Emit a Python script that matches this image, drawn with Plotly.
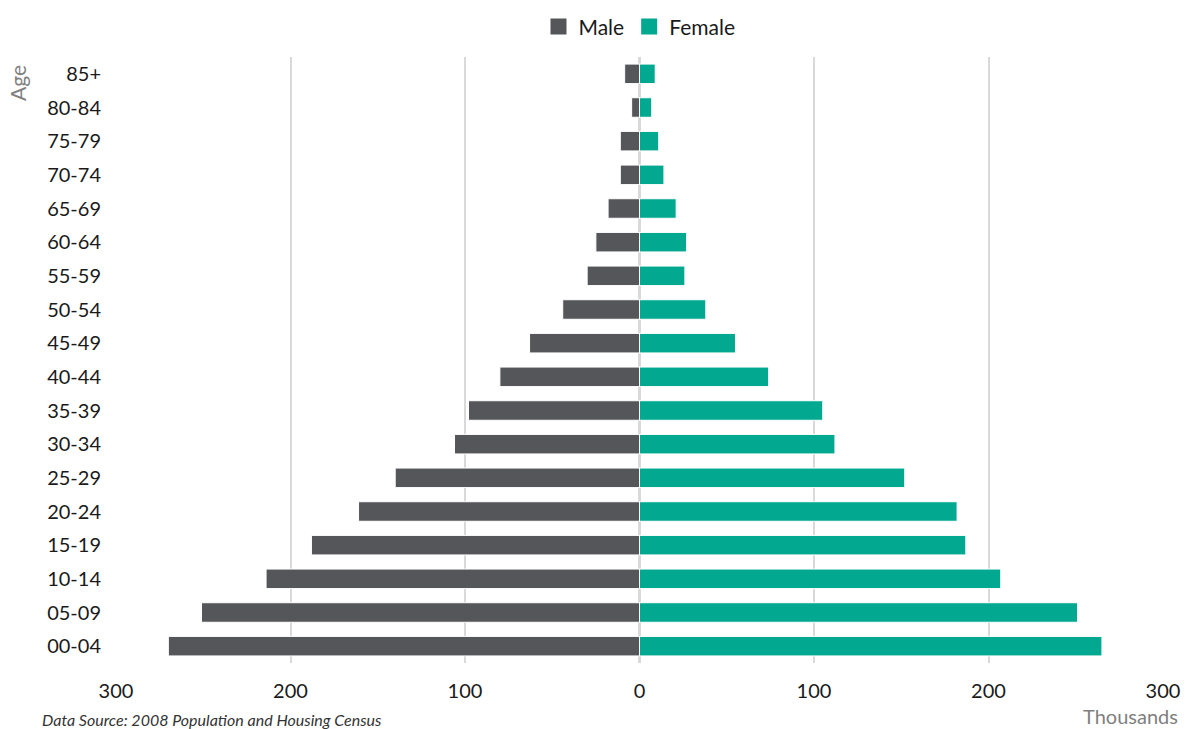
import plotly.graph_objects as go

age_groups = ["00-04", "05-09", "10-14", "15-19", "20-24", "25-29", "30-34", "35-39",
              "40-44", "45-49", "50-54", "55-59", "60-64", "65-69", "70-74", "75-79",
              "80-84", "85+"]
male = [270, 251, 214, 188, 161, 140, 106, 98, 80, 63, 44, 30, 25, 18, 11, 11, 4.5, 8.5]
female = [265, 251, 207, 187, 182, 152, 112, 105, 74, 55, 38, 26, 27, 21, 14, 11, 7, 9]
tick_vals = [-300, -200, -100, 0, 100, 200, 300]
tick_text = ["300", "200", "100", "0", "100", "200", "300"]

MALE_C = "#55565a"
FEMALE_C = "#02a88f"
FONT = "Lato, 'Open Sans', sans-serif"

fig = go.Figure()
fig.add_trace(go.Bar(
    y=age_groups, x=[-v for v in male], name="Male", orientation="h",
    marker=dict(color=MALE_C, line=dict(color="#ffffff", width=1)),
    width=0.58, showlegend=False,
))
fig.add_trace(go.Bar(
    y=age_groups, x=female, name="Female", orientation="h",
    marker=dict(color=FEMALE_C, line=dict(color="#ffffff", width=1)),
    width=0.58, showlegend=False,
))
# legend-only entries with large square swatches
for nm, c in [("Male", MALE_C), ("Female", FEMALE_C)]:
    fig.add_trace(go.Scatter(
        x=[None], y=[None], mode="markers", name=nm,
        marker=dict(symbol="square", size=17, color=c),
        showlegend=True,
    ))

fig.update_layout(
    width=1187, height=729,
    barmode="relative",
    plot_bgcolor="white", paper_bgcolor="white",
    margin=dict(l=116, r=24, t=57, b=66, autoexpand=False),
    font=dict(family=FONT, size=19, color="#1a1a1a"),
    legend=dict(orientation="h", x=0.5, xanchor="center", y=0.963, yanchor="middle",
                yref="container", font=dict(size=21), itemsizing="trace",
                traceorder="normal", itemwidth=30),
    xaxis=dict(range=[-300, 300], tickvals=tick_vals, ticktext=tick_text,
               showgrid=True, gridcolor="#d9d9d9", gridwidth=2,
               zeroline=True, zerolinecolor="#d9d9d9", zerolinewidth=3,
               showline=False, ticks="", ticklabelstandoff=14,
               tickfont=dict(size=20), automargin=False),
    yaxis=dict(type="category", categoryorder="array", categoryarray=age_groups,
               range=[-0.5, 17.5],
               showgrid=False, showline=False, ticks="", ticklabelstandoff=14,
               tickfont=dict(size=20), automargin=False),
)

fig.add_annotation(text="Age", xref="paper", yref="paper", x=-0.0936, y=1.0 - (83 - 57) / 606,
                   xanchor="center", yanchor="middle", textangle=-90, showarrow=False,
                   font=dict(size=21, color="#7f7f7f", family=FONT))
fig.add_annotation(text="Thousands", xref="paper", yref="paper", x=1.016, y=-0.087,
                   xanchor="right", yanchor="middle", showarrow=False,
                   font=dict(size=20, color="#7f7f7f", family=FONT))
fig.add_annotation(text="<i>Data Source: 2008 Population and Housing Census</i>",
                   xref="paper", yref="paper", x=-0.0726, y=-0.094,
                   xanchor="left", yanchor="middle", showarrow=False,
                   font=dict(size=16, color="#333333", family=FONT))

fig.write_html("out.html", config={"displayModeBar": False},
               post_script="document.body.style.margin='0px';document.body.style.overflow='hidden';")
